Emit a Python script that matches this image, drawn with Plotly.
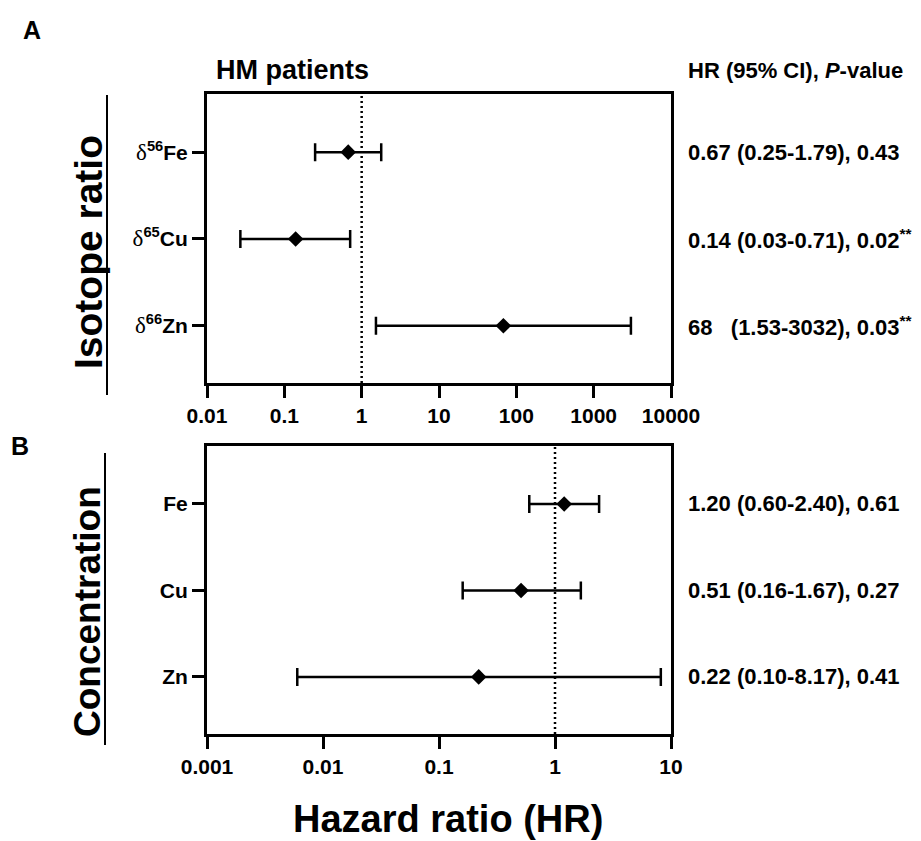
import plotly.graph_objects as go

# ---------------- data ----------------
iso_categories = ["d56Fe", "d65Cu", "d66Zn"]
iso_ticktext = [
    '<span style="font-family:Liberation Serif;font-weight:normal;font-size:23px">δ</span><sup>56</sup>Fe',
    '<span style="font-family:Liberation Serif;font-weight:normal;font-size:23px">δ</span><sup>65</sup>Cu',
    '<span style="font-family:Liberation Serif;font-weight:normal;font-size:23px">δ</span><sup>66</sup>Zn',
]
iso_hr = [0.67, 0.14, 68]
iso_lo = [0.25, 0.027, 1.53]
iso_hi = [1.79, 0.71, 3032]
iso_text = [
    "0.67 (0.25-1.79), 0.43",
    "0.14 (0.03-0.71), 0.02<sup>**</sup>",
    "68\u00a0\u00a0\u00a0(1.53-3032), 0.03<sup>**</sup>",
]
iso_xticks = [0.01, 0.1, 1, 10, 100, 1000, 10000]
iso_xticklabels = ["0.01", "0.1", "1", "10", "100", "1000", "10000"]

conc_categories = ["Fe", "Cu", "Zn"]
conc_hr = [1.20, 0.51, 0.22]
conc_lo = [0.60, 0.16, 0.006]
conc_hi = [2.40, 1.67, 8.17]
conc_text = [
    "1.20 (0.60-2.40), 0.61",
    "0.51 (0.16-1.67), 0.27",
    "0.22 (0.10-8.17), 0.41",
]
conc_xticks = [0.001, 0.01, 0.1, 1, 10]
conc_xticklabels = ["0.001", "0.01", "0.1", "1", "10"]

# ---------------- figure ----------------
OFF = 8  # page body margin
W, H = 921 - OFF, 841 - OFF
FONT = "Liberation Sans"


def px_x(v):
    return (v - OFF) / W


def px_y(v):
    return 1 - (v - OFF) / H


fig = go.Figure()


def add_panel(cats, hr, lo, hi, xa, ya):
    fig.add_trace(go.Scatter(
        x=hr, y=cats, mode="markers",
        marker=dict(symbol="diamond", size=12, color="black", line=dict(width=0)),
        error_x=dict(type="data", symmetric=False,
                     array=[h - m for h, m in zip(hi, hr)],
                     arrayminus=[m - l for m, l in zip(hr, lo)],
                     color="black", thickness=2.5, width=9),
        xaxis=xa, yaxis=ya, showlegend=False, hoverinfo="skip",
    ))


add_panel(iso_categories, iso_hr, iso_lo, iso_hi, "x", "y")
add_panel(conc_categories, conc_hr, conc_lo, conc_hi, "x2", "y2")

axis_common = dict(
    showline=True, linecolor="black", linewidth=3, mirror=True,
    ticks="outside", ticklen=12, tickwidth=3, tickcolor="black",
    showgrid=False, zeroline=False, automargin=False,
    tickfont=dict(family=FONT, size=21, color="black", weight="bold"),
)

xdom = [px_x(207), px_x(671)]

fig.update_layout(
    width=W, height=H,
    margin=dict(l=0, r=0, t=0, b=0),
    paper_bgcolor="white", plot_bgcolor="white",
    template="none",
    font=dict(family=FONT, color="black"),
    xaxis=dict(axis_common, type="log", domain=xdom, anchor="y",
               range=[-2, 4], tickvals=iso_xticks, ticktext=iso_xticklabels),
    yaxis=dict(axis_common, type="category", domain=[px_y(383), px_y(94)], anchor="x",
               range=[2.66, -0.67], tickvals=iso_categories, ticktext=iso_ticktext,
               categoryorder="array", categoryarray=iso_categories),
    xaxis2=dict(axis_common, type="log", domain=xdom, anchor="y2",
                range=[-3, 1], tickvals=conc_xticks, ticktext=conc_xticklabels),
    yaxis2=dict(axis_common, type="category", domain=[px_y(734), px_y(446)], anchor="x2",
                range=[2.66, -0.67], tickvals=conc_categories, ticktext=conc_categories,
                categoryorder="array", categoryarray=conc_categories),
)

# dotted reference lines at HR = 1
for xr, yr in (("x", "y domain"), ("x2", "y2 domain")):
    fig.add_shape(type="line", xref=xr, yref=yr, x0=1, x1=1, y0=0, y1=1,
                  line=dict(color="black", width=2.5, dash="2px,3px"))

# left vertical lines next to group titles
fig.add_shape(type="line", xref="paper", yref="paper",
              x0=px_x(107), x1=px_x(107), y0=px_y(95), y1=px_y(395),
              line=dict(color="black", width=2))
fig.add_shape(type="line", xref="paper", yref="paper",
              x0=px_x(105), x1=px_x(105), y0=px_y(453), y1=px_y(745),
              line=dict(color="black", width=2))

bold = dict(family=FONT, color="black", weight="bold")

annotations = [
    dict(text="A", x=px_x(32), y=px_y(30), font=dict(bold, size=25)),
    dict(text="B", x=px_x(20), y=px_y(446), font=dict(bold, size=25)),
    dict(text="HM patients", x=px_x(292), y=px_y(70), font=dict(bold, size=27)),
    dict(text="HR (95% CI), <i>P</i>-value", x=px_x(686), y=px_y(71),
         xanchor="left", font=dict(bold, size=22)),
    dict(text="Isotope ratio", x=px_x(88), y=px_y(252), textangle=-90,
         font=dict(bold, size=39)),
    dict(text="Concentration", x=px_x(87), y=px_y(612), textangle=-90,
         font=dict(bold, size=37)),
    dict(text="Hazard ratio (HR)", x=px_x(448), y=px_y(819),
         font=dict(bold, size=38)),
]
for a in annotations:
    a.setdefault("xanchor", "center")
    a.update(xref="paper", yref="paper", yanchor="middle", showarrow=False)
    fig.add_annotation(**a)

for cat, t in zip(iso_categories, iso_text):
    fig.add_annotation(text=t, xref="paper", yref="y", x=px_x(686), y=cat,
                       xanchor="left", yanchor="middle", showarrow=False,
                       font=dict(bold, size=22))
for cat, t in zip(conc_categories, conc_text):
    fig.add_annotation(text=t, xref="paper", yref="y2", x=px_x(686), y=cat,
                       xanchor="left", yanchor="middle", showarrow=False,
                       font=dict(bold, size=22))

fig.write_html("out.html")
